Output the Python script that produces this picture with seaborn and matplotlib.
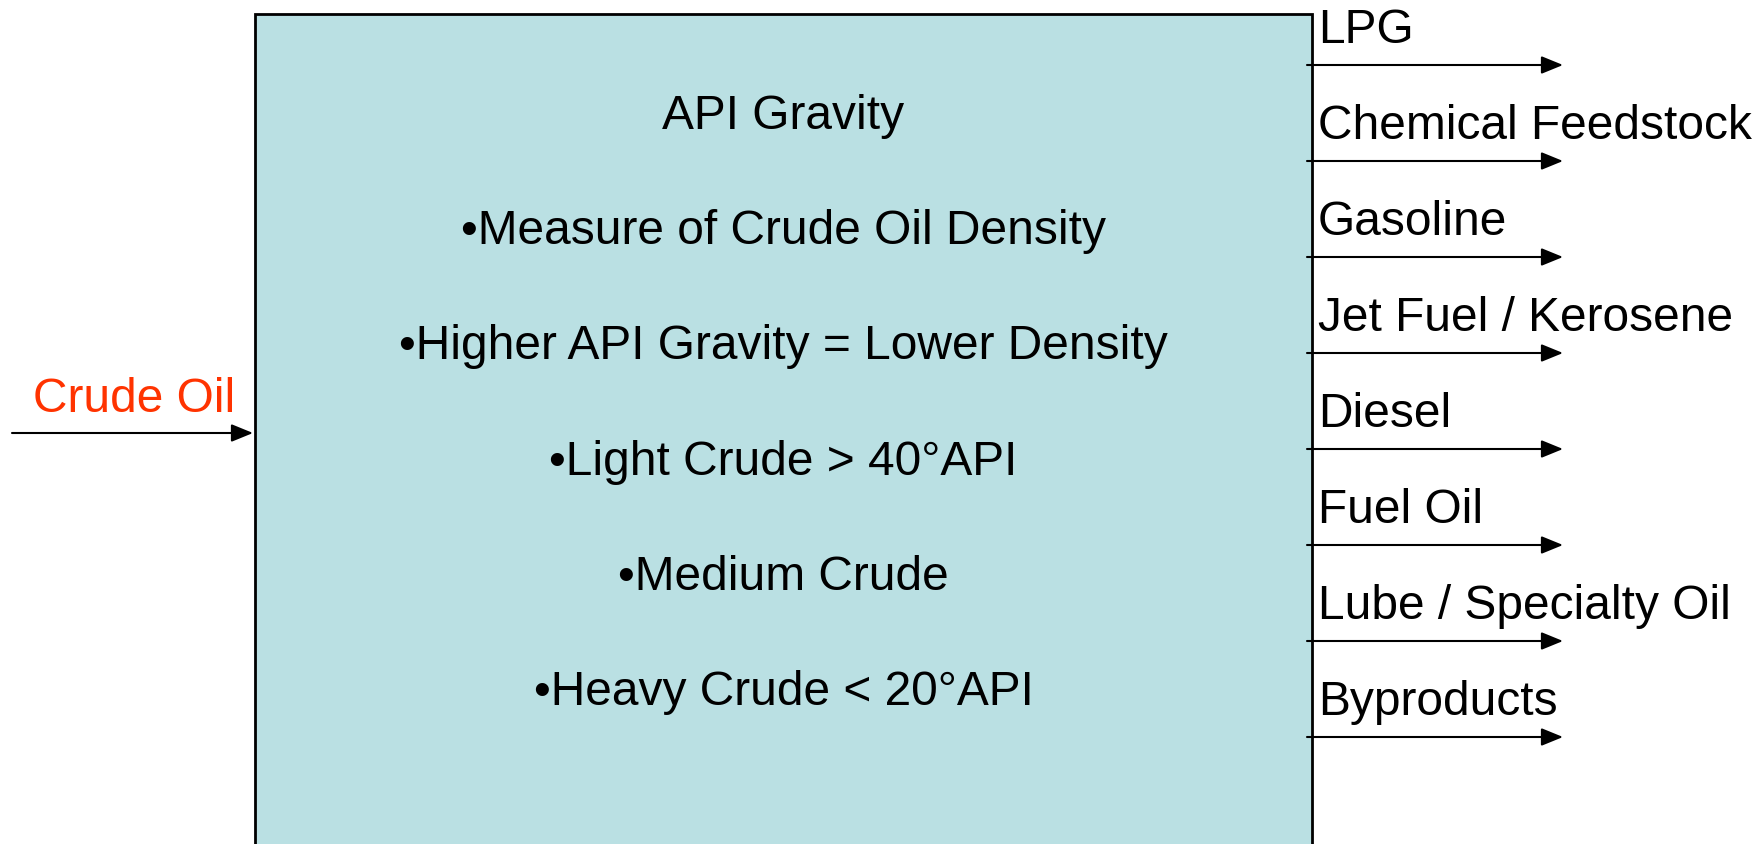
import matplotlib
matplotlib.use("Agg")
import matplotlib.pyplot as plt
import seaborn as sns
from matplotlib.patches import Rectangle

# content
feed_label = "Crude Oil"
box_lines = [
    "API Gravity",
    "\u2022Measure of Crude Oil Density",
    "\u2022Higher API Gravity = Lower Density",
    "\u2022Light Crude > 40\u00b0API",
    "\u2022Medium Crude",
    "\u2022Heavy Crude < 20\u00b0API",
]
products = [
    "LPG",
    "Chemical Feedstock",
    "Gasoline",
    "Jet Fuel / Kerosene",
    "Diesel",
    "Fuel Oil",
    "Lube / Specialty Oil",
    "Byproducts",
]

sns.set_theme(style="white")
plt.rcParams["font.family"] = ["Liberation Sans", "DejaVu Sans"]

W, H = 1765, 845
fig = plt.figure(figsize=(W / 100, H / 100), dpi=100)
ax = fig.add_axes([0, 0, 1, 1])
ax.set_xlim(0, W)
ax.set_ylim(H, 0)
ax.axis("off")

FS = 34.5
box_left, box_top, box_right = 255, 15, 1312
ax.add_patch(Rectangle((box_left, box_top), box_right - box_left, H + 20 - box_top,
                       facecolor="#bae0e3", edgecolor="black", lw=2))

arrow = dict(arrowstyle="-|>,head_length=1.1,head_width=0.45", color="black", lw=1.5,
             shrinkA=0, shrinkB=0)

# input
ax.annotate("", xy=(box_left - 2, 434), xytext=(12, 434), arrowprops=arrow)
ax.text(235, 412, feed_label, color="#ff3300", fontsize=FS, ha="right", va="baseline")

# box text
cx = (box_left + box_right) / 2
for i, line in enumerate(box_lines):
    ax.text(cx, 129 + i * 115.2, line, fontsize=FS, ha="center", va="baseline", color="black")

# outputs
for i, name in enumerate(products):
    y = 66 + i * 96
    ax.annotate("", xy=(1563, y), xytext=(1307, y), arrowprops=arrow)
    ax.text(1318, y - 23, name, fontsize=FS, ha="left", va="baseline", color="black")

fig.savefig("out.png", dpi=100, facecolor="white")
